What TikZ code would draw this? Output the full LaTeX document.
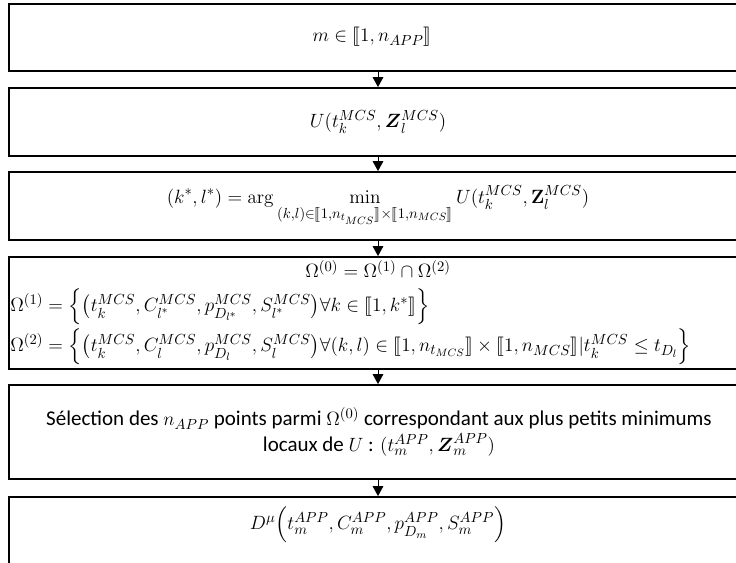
\documentclass[tikz,border=0pt]{standalone}
\usepackage{amsmath,amssymb,stmaryrd}
\usepackage[no-math]{fontspec}
\setmainfont{Carlito}
\DeclareMathSizes{15}{15}{11}{8.5}
\DeclareMathSizes{15.75}{15}{11}{8.5}
\usetikzlibrary{arrows.meta}
\tikzset{
  box/.style={draw=black, line width=1.4pt, minimum width=553.5pt, inner sep=0pt},
  arr/.style={line width=0.7pt, -{Triangle[width=8pt,length=7.5pt]}},
  txt/.style={inner sep=0pt, font=\fontsize{15}{18}\selectfont},
  ptxt/.style={inner sep=0pt, font=\fontsize{15.75}{19}\selectfont},
}
\begin{document}
\begin{tikzpicture}[x=0.75pt,y=-0.75pt]
\useasboundingbox (0,0) rectangle (736,562);
% boxes
\node[box, minimum height=50.25pt] (b1) at (378,37.5) {};
\node[box, minimum height=51pt] (b2) at (378,122) {};
\node[box, minimum height=51pt] (b3) at (378,206) {};
\node[box, minimum height=84pt] (b4) at (378,313) {};
\node[box, minimum height=70.5pt] (b5) at (378,432) {};
\node[box, minimum height=60pt] (b6) at (378,537) {};
% arrows
\draw[arr] (b1.south) -- (b2.north);
\draw[arr] (b2.south) -- (b3.north);
\draw[arr] (b3.south) -- (b4.north);
\draw[arr] (b4.south) -- (b5.north);
\draw[arr] (b5.south) -- (b6.north);
% texts
\node[txt] (t1) at (372,37) {$m\in\llbracket 1,n_{APP}\rrbracket$};
\node[txt] (t2) at (378,122) {$U(t_k^{MCS},\boldsymbol{Z}_l^{MCS})$};
\node[txt] (t3) at (378,206) {$\displaystyle (k^*,l^*)=\arg\min_{(k,l)\in\llbracket 1,n_{t_{MCS}}\rrbracket\times\llbracket 1,n_{MCS}\rrbracket} U(t_k^{MCS},\mathbf{Z}_l^{MCS})$};
\node[txt] (t4a) at (378,269) {$\Omega^{(0)}=\Omega^{(1)}\cap\Omega^{(2)}$};
\node[txt, anchor=west] (t4b) at (10,307) {$\Omega^{(1)}=\Bigl\{\bigl(t_k^{MCS},C_{l^*}^{MCS},p_{D_{l^*}}^{MCS},S_{l^*}^{MCS}\bigr)\forall k\in\llbracket 1,k^*\rrbracket\Bigr\}$};
\node[txt, anchor=west] (t4c) at (10,347) {$\Omega^{(2)}=\Bigl\{\bigl(t_k^{MCS},C_{l}^{MCS},p_{D_{l}}^{MCS},S_{l}^{MCS}\bigr)\forall (k,l)\in\llbracket 1,n_{t_{MCS}}\rrbracket\times\llbracket 1,n_{MCS}\rrbracket | t_k^{MCS}\le t_{D_l}\Bigr\}$};
\node[ptxt, align=center] (t5) at (379,432) {S\'election des $n_{APP}$ points parmi $\Omega^{(0)}$ correspondant aux plus petits minimums\\locaux de $U$ : $(t_m^{APP},\boldsymbol{Z}_m^{APP})$};
\node[txt] (t6) at (378,525) {$D^{\mu}\Bigl(t_m^{APP},C_m^{APP},p_{D_m}^{APP},S_m^{APP}\Bigr)$};
\end{tikzpicture}
\end{document}
